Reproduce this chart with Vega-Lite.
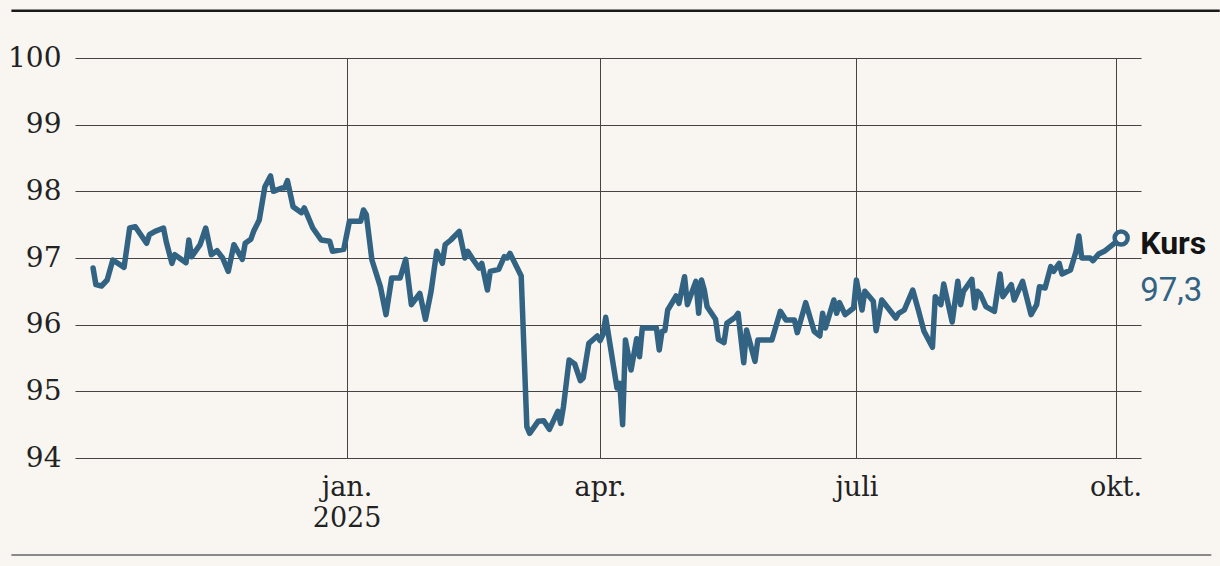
{
  "$schema": "https://vega.github.io/schema/vega-lite/v6.json",
  "width": 1066,
  "height": 400,
  "autosize": {"type": "none"},
  "padding": {"left": 75, "top": 58, "right": 79, "bottom": 108},
  "background": "#f9f6f2",
  "config": {
    "view": {"stroke": null},
    "locale": {"number": {"decimal": ",", "thousands": " ", "grouping": [3], "currency": ["", " kr"]}}
  },
  "data": {"values": [
      {"date": "2024-10-03", "value": 96.85},
      {"date": "2024-10-04", "value": 96.6},
      {"date": "2024-10-06", "value": 96.58},
      {"date": "2024-10-08", "value": 96.67},
      {"date": "2024-10-10", "value": 96.97},
      {"date": "2024-10-14", "value": 96.86},
      {"date": "2024-10-16", "value": 97.45},
      {"date": "2024-10-18", "value": 97.47},
      {"date": "2024-10-22", "value": 97.22},
      {"date": "2024-10-23", "value": 97.35},
      {"date": "2024-10-25", "value": 97.4},
      {"date": "2024-10-28", "value": 97.45},
      {"date": "2024-10-29", "value": 97.24},
      {"date": "2024-10-31", "value": 96.92},
      {"date": "2024-11-01", "value": 97.05},
      {"date": "2024-11-05", "value": 96.93},
      {"date": "2024-11-06", "value": 97.27},
      {"date": "2024-11-07", "value": 97.02},
      {"date": "2024-11-10", "value": 97.2},
      {"date": "2024-11-12", "value": 97.45},
      {"date": "2024-11-14", "value": 97.05},
      {"date": "2024-11-16", "value": 97.11},
      {"date": "2024-11-18", "value": 97.0},
      {"date": "2024-11-20", "value": 96.8},
      {"date": "2024-11-22", "value": 97.2},
      {"date": "2024-11-25", "value": 96.98},
      {"date": "2024-11-26", "value": 97.22},
      {"date": "2024-11-28", "value": 97.28},
      {"date": "2024-11-29", "value": 97.4},
      {"date": "2024-12-01", "value": 97.57},
      {"date": "2024-12-02", "value": 97.82},
      {"date": "2024-12-03", "value": 98.07},
      {"date": "2024-12-05", "value": 98.23},
      {"date": "2024-12-06", "value": 98.0},
      {"date": "2024-12-09", "value": 98.05},
      {"date": "2024-12-10", "value": 98.05},
      {"date": "2024-12-11", "value": 98.16},
      {"date": "2024-12-13", "value": 97.77},
      {"date": "2024-12-16", "value": 97.68},
      {"date": "2024-12-17", "value": 97.75},
      {"date": "2024-12-18", "value": 97.65},
      {"date": "2024-12-20", "value": 97.45},
      {"date": "2024-12-23", "value": 97.27},
      {"date": "2024-12-26", "value": 97.25},
      {"date": "2024-12-27", "value": 97.1},
      {"date": "2024-12-31", "value": 97.13},
      {"date": "2025-01-02", "value": 97.55},
      {"date": "2025-01-06", "value": 97.55},
      {"date": "2025-01-07", "value": 97.72},
      {"date": "2025-01-08", "value": 97.65},
      {"date": "2025-01-10", "value": 96.97},
      {"date": "2025-01-13", "value": 96.57},
      {"date": "2025-01-15", "value": 96.15},
      {"date": "2025-01-17", "value": 96.7},
      {"date": "2025-01-20", "value": 96.7},
      {"date": "2025-01-22", "value": 96.98},
      {"date": "2025-01-24", "value": 96.3},
      {"date": "2025-01-27", "value": 96.47},
      {"date": "2025-01-29", "value": 96.08},
      {"date": "2025-01-31", "value": 96.5},
      {"date": "2025-02-02", "value": 97.1},
      {"date": "2025-02-04", "value": 96.92},
      {"date": "2025-02-05", "value": 97.2},
      {"date": "2025-02-07", "value": 97.27},
      {"date": "2025-02-10", "value": 97.4},
      {"date": "2025-02-12", "value": 97.0},
      {"date": "2025-02-13", "value": 97.1},
      {"date": "2025-02-15", "value": 96.97},
      {"date": "2025-02-17", "value": 96.85},
      {"date": "2025-02-18", "value": 96.92},
      {"date": "2025-02-20", "value": 96.52},
      {"date": "2025-02-21", "value": 96.8},
      {"date": "2025-02-24", "value": 96.83},
      {"date": "2025-02-26", "value": 97.02},
      {"date": "2025-02-27", "value": 97.0},
      {"date": "2025-02-28", "value": 97.07},
      {"date": "2025-03-04", "value": 96.73},
      {"date": "2025-03-06", "value": 94.47},
      {"date": "2025-03-07", "value": 94.37},
      {"date": "2025-03-10", "value": 94.55},
      {"date": "2025-03-12", "value": 94.56},
      {"date": "2025-03-14", "value": 94.43},
      {"date": "2025-03-17", "value": 94.7},
      {"date": "2025-03-18", "value": 94.52},
      {"date": "2025-03-19", "value": 94.77},
      {"date": "2025-03-21", "value": 95.47},
      {"date": "2025-03-23", "value": 95.41},
      {"date": "2025-03-25", "value": 95.16},
      {"date": "2025-03-26", "value": 95.2},
      {"date": "2025-03-28", "value": 95.72},
      {"date": "2025-03-31", "value": 95.83},
      {"date": "2025-04-01", "value": 95.76},
      {"date": "2025-04-02", "value": 95.85},
      {"date": "2025-04-03", "value": 96.11},
      {"date": "2025-04-07", "value": 95.05},
      {"date": "2025-04-08", "value": 95.12},
      {"date": "2025-04-09", "value": 94.5},
      {"date": "2025-04-10", "value": 95.77},
      {"date": "2025-04-12", "value": 95.32},
      {"date": "2025-04-14", "value": 95.79},
      {"date": "2025-04-15", "value": 95.52},
      {"date": "2025-04-16", "value": 95.95},
      {"date": "2025-04-21", "value": 95.95},
      {"date": "2025-04-22", "value": 95.62},
      {"date": "2025-04-23", "value": 95.9},
      {"date": "2025-04-24", "value": 95.91},
      {"date": "2025-04-25", "value": 96.22},
      {"date": "2025-04-28", "value": 96.43},
      {"date": "2025-04-29", "value": 96.32},
      {"date": "2025-05-01", "value": 96.72},
      {"date": "2025-05-02", "value": 96.3},
      {"date": "2025-05-05", "value": 96.65},
      {"date": "2025-05-06", "value": 96.17},
      {"date": "2025-05-07", "value": 96.67},
      {"date": "2025-05-08", "value": 96.52},
      {"date": "2025-05-09", "value": 96.27},
      {"date": "2025-05-12", "value": 96.08},
      {"date": "2025-05-13", "value": 95.78},
      {"date": "2025-05-15", "value": 95.73},
      {"date": "2025-05-16", "value": 96.02},
      {"date": "2025-05-19", "value": 96.11},
      {"date": "2025-05-20", "value": 96.17},
      {"date": "2025-05-22", "value": 95.43},
      {"date": "2025-05-23", "value": 95.92},
      {"date": "2025-05-26", "value": 95.45},
      {"date": "2025-05-27", "value": 95.77},
      {"date": "2025-06-01", "value": 95.77},
      {"date": "2025-06-04", "value": 96.2},
      {"date": "2025-06-06", "value": 96.07},
      {"date": "2025-06-09", "value": 96.07},
      {"date": "2025-06-10", "value": 95.88},
      {"date": "2025-06-13", "value": 96.33},
      {"date": "2025-06-16", "value": 95.9},
      {"date": "2025-06-18", "value": 95.83},
      {"date": "2025-06-19", "value": 96.17},
      {"date": "2025-06-20", "value": 95.95},
      {"date": "2025-06-23", "value": 96.37},
      {"date": "2025-06-24", "value": 96.17},
      {"date": "2025-06-25", "value": 96.33},
      {"date": "2025-06-27", "value": 96.15},
      {"date": "2025-06-30", "value": 96.25},
      {"date": "2025-07-01", "value": 96.67},
      {"date": "2025-07-03", "value": 96.22},
      {"date": "2025-07-04", "value": 96.5},
      {"date": "2025-07-07", "value": 96.35},
      {"date": "2025-07-08", "value": 95.91},
      {"date": "2025-07-10", "value": 96.37},
      {"date": "2025-07-15", "value": 96.1},
      {"date": "2025-07-16", "value": 96.17},
      {"date": "2025-07-18", "value": 96.22},
      {"date": "2025-07-21", "value": 96.52},
      {"date": "2025-07-23", "value": 96.22},
      {"date": "2025-07-25", "value": 95.9},
      {"date": "2025-07-28", "value": 95.66},
      {"date": "2025-07-29", "value": 96.42},
      {"date": "2025-07-31", "value": 96.3},
      {"date": "2025-08-01", "value": 96.61},
      {"date": "2025-08-04", "value": 96.04},
      {"date": "2025-08-06", "value": 96.65},
      {"date": "2025-08-07", "value": 96.3},
      {"date": "2025-08-08", "value": 96.5},
      {"date": "2025-08-11", "value": 96.68},
      {"date": "2025-08-12", "value": 96.25},
      {"date": "2025-08-13", "value": 96.5},
      {"date": "2025-08-14", "value": 96.46},
      {"date": "2025-08-16", "value": 96.27},
      {"date": "2025-08-19", "value": 96.2},
      {"date": "2025-08-21", "value": 96.76},
      {"date": "2025-08-22", "value": 96.42},
      {"date": "2025-08-25", "value": 96.6},
      {"date": "2025-08-26", "value": 96.37},
      {"date": "2025-08-29", "value": 96.65},
      {"date": "2025-09-01", "value": 96.15},
      {"date": "2025-09-03", "value": 96.3},
      {"date": "2025-09-04", "value": 96.57},
      {"date": "2025-09-06", "value": 96.55},
      {"date": "2025-09-08", "value": 96.87},
      {"date": "2025-09-09", "value": 96.8},
      {"date": "2025-09-11", "value": 96.92},
      {"date": "2025-09-12", "value": 96.76},
      {"date": "2025-09-15", "value": 96.82},
      {"date": "2025-09-17", "value": 97.1},
      {"date": "2025-09-18", "value": 97.33},
      {"date": "2025-09-19", "value": 97.0},
      {"date": "2025-09-22", "value": 97.0},
      {"date": "2025-09-23", "value": 96.96},
      {"date": "2025-09-25", "value": 97.06},
      {"date": "2025-09-27", "value": 97.1},
      {"date": "2025-09-30", "value": 97.2},
      {"date": "2025-10-03", "value": 97.3}
  ]},
  "layer": [
    {
      "mark": {"type": "line", "color": "#336383", "strokeWidth": 5.5, "strokeJoin": "round", "strokeCap": "round"},
      "encoding": {
        "x": {
          "field": "date",
          "type": "temporal",
          "scale": {
            "type": "utc",
            "domain": [
              {"year": 2024, "month": "sep", "date": 26, "hours": 14, "utc": true},
              {"year": 2025, "month": "oct", "date": 10, "hours": 1, "utc": true}
            ]
          },
          "axis": {
            "title": null,
            "values": [
              {"year": 2025, "month": "jan", "date": 1, "utc": true},
              {"year": 2025, "month": "apr", "date": 1, "utc": true},
              {"year": 2025, "month": "jul", "date": 1, "utc": true},
              {"year": 2025, "month": "oct", "date": 1, "utc": true}
            ],
            "labelExpr": "utcmonth(datum.value) == 0 ? ['jan.', '2025'] : utcmonth(datum.value) == 3 ? 'apr.' : utcmonth(datum.value) == 6 ? 'juli' : 'okt.'",
            "grid": true,
            "gridColor": "#444444",
            "gridWidth": 1,
            "gridOpacity": 1,
            "domain": false,
            "ticks": false,
            "labelFont": "DejaVu Serif",
            "labelFontSize": 27,
            "labelColor": "#222222",
            "labelPadding": 16,
            "labelLineHeight": 31,
            "labelFlush": false,
            "labelOverlap": false
          }
        },
        "y": {
          "field": "value",
          "type": "quantitative",
          "scale": {"domain": [94, 100], "nice": false, "zero": false},
          "axis": {
            "title": null,
            "values": [94, 95, 96, 97, 98, 99, 100],
            "format": ".0f",
            "labelExpr": "format(datum.value, '.0f')",
            "grid": true,
            "gridColor": "#444444",
            "gridWidth": 1,
            "gridOpacity": 1,
            "domain": false,
            "ticks": false,
            "labelFont": "DejaVu Serif",
            "labelFontSize": 28,
            "labelColor": "#222222",
            "labelPadding": 14
          }
        }
      }
    },
    {
      "transform": [{"aggregate": [{"op": "count", "as": "n"}]}],
      "mark": {"type": "rule", "color": "#1a1a1a", "strokeWidth": 2.5},
      "encoding": {
        "x": {"datum": {"year": 2024, "month": "sep", "date": 4, "utc": true}, "type": "temporal"},
        "x2": {"datum": {"year": 2025, "month": "nov", "date": 7, "utc": true}},
        "y": {"datum": 100.71, "type": "quantitative"}
      }
    },
    {
      "transform": [{"aggregate": [{"op": "count", "as": "n"}]}],
      "mark": {"type": "rule", "color": "#8a8a8a", "strokeWidth": 2},
      "encoding": {
        "x": {"datum": {"year": 2024, "month": "sep", "date": 4, "utc": true}, "type": "temporal"},
        "x2": {"datum": {"year": 2025, "month": "nov", "date": 4, "utc": true}},
        "y": {"datum": 92.545, "type": "quantitative"}
      }
    },
    {
      "transform": [{"filter": "time(datum.date) == time('2025-10-03')"}],
      "mark": {"type": "point", "shape": "circle", "size": 170, "filled": true, "fill": "#f9f6f2", "stroke": "#336383", "strokeWidth": 4.5, "opacity": 1},
      "encoding": {
        "x": {"field": "date", "type": "temporal"},
        "y": {"field": "value", "type": "quantitative"}
      }
    },
    {
      "transform": [{"filter": "time(datum.date) == time('2025-10-03')"}],
      "mark": {"type": "text", "align": "left", "baseline": "alphabetic", "dx": 19, "dy": 16, "font": "Roboto", "fontWeight": "bold", "fontSize": 32, "color": "#141414"},
      "encoding": {
        "x": {"field": "date", "type": "temporal"},
        "y": {"field": "value", "type": "quantitative"},
        "text": {"value": "Kurs"}
      }
    },
    {
      "transform": [{"filter": "time(datum.date) == time('2025-10-03')"}],
      "mark": {"type": "text", "align": "left", "baseline": "alphabetic", "dx": 19, "dy": 63, "font": "Roboto", "fontSize": 33, "color": "#336383"},
      "encoding": {
        "x": {"field": "date", "type": "temporal"},
        "y": {"field": "value", "type": "quantitative"},
        "text": {"field": "value", "type": "quantitative", "format": ".1f"}
      }
    }
  ]
}
